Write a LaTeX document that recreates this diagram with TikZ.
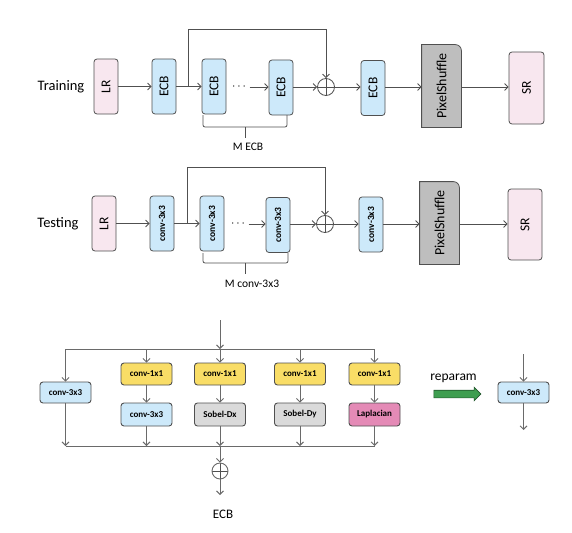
\documentclass[tikz,border=0pt]{standalone}
\usepackage{fontspec}
\setmainfont{Carlito}
\usetikzlibrary{arrows.meta,shapes.arrows}
\definecolor{lrpink}{HTML}{F8E7EF}
\definecolor{ecbblue}{HTML}{CDE9FA}
\definecolor{psgray}{HTML}{BEBEBE}
\definecolor{sobelgray}{HTML}{DADADA}
\definecolor{convyellow}{HTML}{F9DD66}
\definecolor{lappink}{HTML}{E48AB6}
\definecolor{repgreen}{HTML}{3E9E50}
\definecolor{edge}{HTML}{505050}
\definecolor{wire}{HTML}{6A6A6A}
\tikzset{
  arr/.style={-{Straight Barb[length=3.5pt,width=7pt]}},
  vbox/.style={draw=edge,rounded corners=3pt,inner sep=0pt,minimum width=24pt,minimum height=55pt,font=\fontsize{13.5}{14}\selectfont},
  vsmall/.style={vbox,font=\bfseries\fontsize{9.5}{10}\selectfont},
  sbox/.style={draw=edge,rounded corners=3pt,inner sep=0pt,minimum width=51pt,minimum height=22pt,font=\bfseries\fontsize{9}{10}\selectfont},
  sumnode/.style={circle,draw=edge,minimum size=17pt,inner sep=0pt,
    path picture={\draw[edge] (path picture bounding box.north) -- (path picture bounding box.south)
      (path picture bounding box.west) -- (path picture bounding box.east);}},
  lbl/.style={font=\fontsize{14.5}{15}\selectfont}
}
\begin{document}
\begin{tikzpicture}[x=1pt,y=-1pt,line width=0.8pt,draw=edge]
\useasboundingbox (0,0) rectangle (572,532);
% training
\node (ttrain) [lbl] at (61,87) {Training};
\node (tlr) [vbox,fill=lrpink] at (106,86.5) {\rotatebox{90}{LR}};
\node (tecb1) [vbox,fill=ecbblue] at (164,86.5) {\rotatebox{90}{ECB}};
\node (tecb2) [vbox,fill=ecbblue] at (214,86.5) {\rotatebox{90}{ECB}};
\node (tdots) [font=\fontsize{12}{12}\selectfont] at (239,87) {$\cdots$};
\node (tecb3) [vbox,fill=ecbblue] at (281,87.5) {\rotatebox{90}{ECB}};
\node (tadd) [sumnode] at (326,87) {};
\node (tecb4) [vbox,fill=ecbblue] at (373,88) {\rotatebox{90}{ECB}};
\node (tps) [minimum width=39pt,minimum height=82pt,inner sep=0pt] at (441.5,86) {};
\draw[fill=psgray] (tps.south west) -- (tps.north west) [rounded corners=6pt] -- (tps.north east) [sharp corners] -- (tps.south east) -- cycle;
\node at (tps) {\fontsize{14}{14}\selectfont\rotatebox{90}{PixelShuffle}};
\node (tsr) [vbox,fill=lrpink,minimum width=35pt,minimum height=72pt] at (526.5,88) {\rotatebox{90}{SR}};
\coordinate (tskip) at (188,86.5);
\draw[arr] (tlr) -- (tecb1);
\draw[arr] (tecb1) -- (tecb2);
\draw[arr] (tdots.east) -- (tecb3.west |- tdots.east);
\draw[arr] (tecb3.east |- tadd) -- (tadd);
\draw[arr] (tadd) -- (tecb4.west |- tadd);
\draw[arr] (tecb4.east |- tadd) -- (tps.west |- tadd);
\draw[arr] (tps.east |- tadd) -- (tsr.west |- tadd);
\draw[arr] (tskip) -- ++(0,-57) -| (tadd.north);
\draw[rounded corners=2pt] (203,115) -- (203,127) -- (287,127) -- (287,115);
\draw (245,127) -- (245,138);
\node (tm) [font=\fontsize{11.5}{12}\selectfont] at (248,147) {M ECB};
% testing
\node (stest) [lbl] at (58,223.5) {Testing};
\node (slr) [vbox,fill=lrpink] at (104,223.5) {\rotatebox{90}{LR}};
\node (sconv1) [vsmall,fill=ecbblue] at (162,223.5) {\rotatebox{90}{conv-3x3}};
\node (sconv2) [vsmall,fill=ecbblue] at (212,223.5) {\rotatebox{90}{conv-3x3}};
\node (sdots) [font=\fontsize{12}{12}\selectfont] at (238,224) {$\cdots$};
\node (sconv3) [vsmall,fill=ecbblue] at (278,225) {\rotatebox{90}{conv-3x3}};
\node (sadd) [sumnode] at (325,224) {};
\node (sconv4) [vsmall,fill=ecbblue] at (371,224.5) {\rotatebox{90}{conv-3x3}};
\node (sps) [minimum width=39pt,minimum height=82pt,inner sep=0pt] at (439.5,223) {};
\draw[fill=psgray] (sps.south west) -- (sps.north west) [rounded corners=6pt] -- (sps.north east) [sharp corners] -- (sps.south east) -- cycle;
\node at (sps) {\fontsize{14}{14}\selectfont\rotatebox{90}{PixelShuffle}};
\node (ssr) [vbox,fill=lrpink,minimum width=34pt,minimum height=71pt] at (525,224.5) {\rotatebox{90}{SR}};
\coordinate (sskip) at (187,223.5);
\draw[arr] (slr) -- (sconv1);
\draw[arr] (sconv1) -- (sconv2);
\draw[arr] (sdots.east) -- (sconv3.west |- sdots.east);
\draw[arr] (sconv3.east |- sadd) -- (sadd);
\draw[arr] (sadd) -- (sconv4.west |- sadd);
\draw[arr] (sconv4.east |- sadd) -- (sps.west |- sadd);
\draw[arr] (sps.east |- sadd) -- (ssr.west |- sadd);
\draw[arr] (sskip) -- ++(0,-56.5) -| (sadd.north);
\draw[rounded corners=2pt] (203,253) -- (203,263) -- (288,263) -- (288,253);
\draw (245.5,263) -- (245.5,274);
\node (sm) [font=\fontsize{11.5}{12}\selectfont] at (252,284) {M conv-3x3};
% ECB block
\begin{scope}[draw=wire,line width=0.9pt]
\coordinate (ein) at (220,320);
\coordinate (btop) at (0,349);
\coordinate (bbot) at (0,446);
\node (k1) [sbox,fill=ecbblue,minimum height=21pt] at (65.5,392.5) {conv-3x3};
\node (k2a) [sbox,fill=convyellow] at (146.5,374) {conv-1x1};
\node (k2b) [sbox,fill=ecbblue,minimum height=23pt] at (146.5,414.5) {conv-3x3};
\node (k3a) [sbox,fill=convyellow] at (220,374) {conv-1x1};
\node (k3b) [sbox,fill=sobelgray,minimum height=23pt] at (220,414.5) {Sobel-Dx};
\node (k4a) [sbox,fill=convyellow] at (300,374) {conv-1x1};
\node (k4b) [sbox,fill=sobelgray,minimum height=23pt] at (300,414.5) {Sobel-Dy};
\node (k5a) [sbox,fill=convyellow] at (374.5,374) {conv-1x1};
\node (k5b) [sbox,fill=lappink,minimum height=23pt] at (374.5,414.5) {Laplacian};
\node (eadd) [sumnode,draw=wire,minimum size=16pt] at (220,471) {};
\coordinate (eout) at (220,495);
\node (elbl) [font=\fontsize{13}{13}\selectfont] at (223,514) {ECB};
\draw[arr] (ein) -- (ein |- btop);
\draw (k1.north |- btop) -- (k5a.north |- btop);
\foreach \k in {k1,k2a,k3a,k4a,k5a}
  \draw[arr] (\k.north |- btop) -- (\k.north);
\foreach \a/\b in {k2a/k2b,k3a/k3b,k4a/k4b,k5a/k5b}
  \draw[arr] (\a) -- (\b);
\foreach \k in {k1,k2b,k3b,k4b,k5b}
  \draw[arr] (\k.south) -- (\k.south |- bbot);
\draw (k1.south |- bbot) -- (k5b.south |- bbot);
\draw[arr] (eadd |- bbot) -- (eadd);
\draw[arr] (eadd) -- (eout);
% reparam
\node (reptxt) [font=\fontsize{13.5}{14}\selectfont] at (453.5,378) {reparam};
\node (rep) [single arrow,draw=repgreen!55!black,fill=repgreen,line width=0.6pt,minimum height=47pt,inner sep=3.5pt,single arrow head extend=3pt] at (455.5,394) {};
\node (rconv) [sbox,fill=ecbblue,minimum height=21pt] at (523.5,392.5) {conv-3x3};
\coordinate (rin) at (523.5,354);
\coordinate (rout) at (523.5,430);
\draw[arr] (rin) -- (rconv);
\draw[arr] (rconv) -- (rout);
\end{scope}
\end{tikzpicture}
\end{document}
